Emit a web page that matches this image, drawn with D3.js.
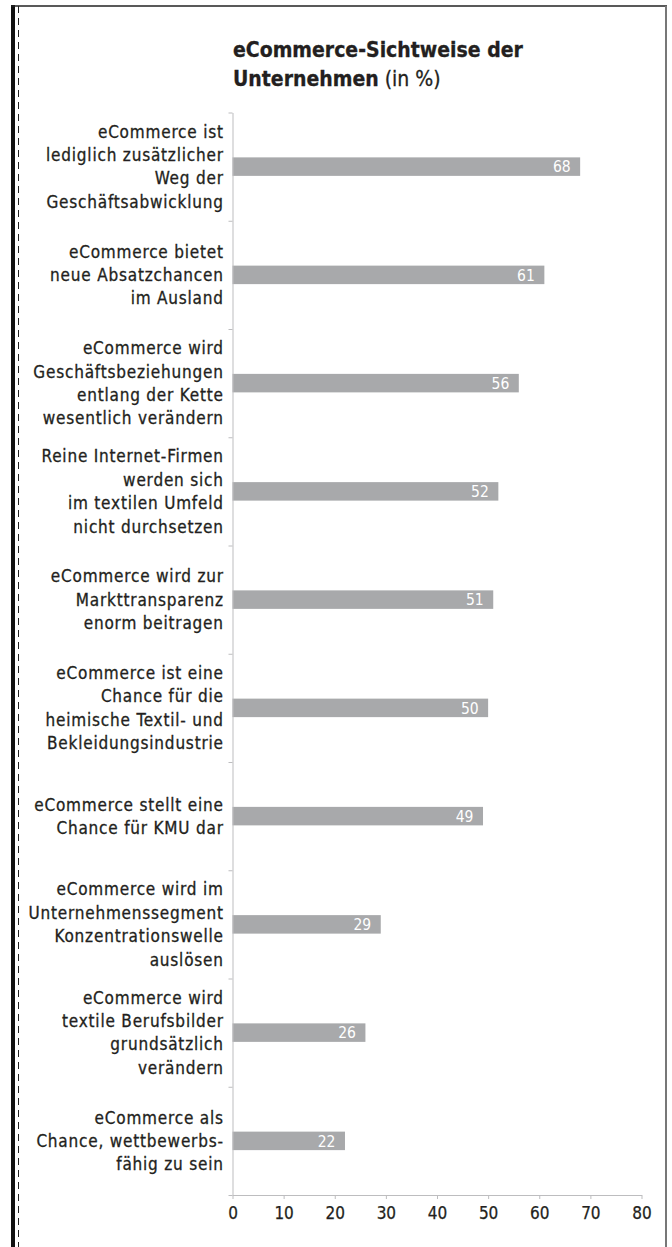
<!DOCTYPE html>
<html>
<head>
<meta charset="utf-8">
<script src="https://cdn.jsdelivr.net/npm/d3@7"></script>
<style>
  html, body { margin: 0; padding: 0; background: #fff; }
  svg { display: block; }
</style>
</head>
<body>
<svg id="chart" width="672" height="1247"></svg>
<script>
// ---- data ----
const categoryLines = [
  ["eCommerce ist", "lediglich zusätzlicher", "Weg der", "Geschäftsabwicklung"],
  ["eCommerce bietet", "neue Absatzchancen", "im Ausland"],
  ["eCommerce wird", "Geschäftsbeziehungen", "entlang der Kette", "wesentlich verändern"],
  ["Reine Internet-Firmen", "werden sich", "im textilen Umfeld", "nicht durchsetzen"],
  ["eCommerce wird zur", "Markttransparenz", "enorm beitragen"],
  ["eCommerce ist eine", "Chance für die", "heimische Textil- und", "Bekleidungsindustrie"],
  ["eCommerce stellt eine", "Chance für KMU dar"],
  ["eCommerce wird im", "Unternehmenssegment", "Konzentrationswelle", "auslösen"],
  ["eCommerce wird", "textile Berufsbilder", "grundsätzlich", "verändern"],
  ["eCommerce als", "Chance, wettbewerbs-", "fähig zu sein"]
];
const values = [68, 61, 56, 52, 51, 50, 49, 29, 26, 22];
const xTicks = [0, 10, 20, 30, 40, 50, 60, 70, 80];
const titleBold = ["eCommerce-Sichtweise der", "Unternehmen"];
const titleNormal = " (in %)";

// ---- layout ----
const FONT = "'DejaVu Sans Condensed', 'DejaVu Sans', sans-serif";
const TEXT = "#231f20";
const AXIS = "#bdbdbf";
const BAR = "#a8a9ab";

const svg = d3.select("#chart");

// page frame
svg.append("rect").attr("x", 11).attr("y", 5).attr("width", 4).attr("height", 1242).attr("fill", "#111");
svg.append("line").attr("x1", 18.5).attr("x2", 18.5).attr("y1", 6).attr("y2", 1247)
  .attr("stroke", "#222").attr("stroke-width", 1).attr("stroke-dasharray", "7,5");
svg.append("line").attr("x1", 11).attr("x2", 667).attr("y1", 6).attr("y2", 6)
  .attr("stroke", "#222").attr("stroke-width", 1.5);
svg.append("line").attr("x1", 666).attr("x2", 666).attr("y1", 6).attr("y2", 1247)
  .attr("stroke", "#777").attr("stroke-width", 2);

// title
const title = svg.append("text").attr("x", 233).attr("y", 57)
  .style("font-family", FONT).style("font-size", "21px").attr("fill", TEXT)
  .attr("stroke", TEXT).attr("stroke-width", 0.3);
title.append("tspan").attr("font-weight", "bold").text(titleBold[0]);
const t2 = svg.append("text").attr("x", 233).attr("y", 86)
  .style("font-family", FONT).style("font-size", "21px").attr("fill", TEXT)
  .attr("stroke", TEXT).attr("stroke-width", 0.3);
t2.append("tspan").attr("font-weight", "bold").text(titleBold[1]);
t2.append("tspan").attr("font-weight", "normal").text(titleNormal);

// scales
const plotTop = 112.5, plotBottom = 1195;
const x = d3.scaleLinear().domain([0, 80]).range([232.5, 641.5]);
const idx = d3.range(categoryLines.length);
const y = d3.scaleBand().domain(idx).range([plotTop, plotBottom]).padding(0);
const yEdge = d3.scaleLinear().domain([0, categoryLines.length]).range([plotTop, plotBottom]);

// bars
const barH = 18.5;
svg.append("g").selectAll("rect").data(values).join("rect")
  .attr("x", x(0))
  .attr("y", (d, i) => y(i) + y.bandwidth() / 2 - barH / 2)
  .attr("width", d => x(d) - x(0))
  .attr("height", barH)
  .attr("fill", BAR);

// value labels
svg.append("g").selectAll("text").data(values).join("text")
  .attr("x", d => x(d) - 9.5)
  .attr("y", (d, i) => y(i) + y.bandwidth() / 2)
  .attr("dy", "0.37em")
  .attr("text-anchor", "end")
  .style("font-family", FONT).style("font-size", "15.5px").attr("fill", "#fff")
  .text(d => d);

// category boundary axis (vertical line + small ticks)
const yAxis = d3.axisLeft(yEdge).tickValues(d3.range(categoryLines.length + 1))
  .tickSize(4).tickSizeOuter(0).tickFormat("");
const gy = svg.append("g").attr("transform", `translate(${x(0)},0)`).call(yAxis);
gy.selectAll("path, line").attr("stroke", AXIS).attr("stroke-width", 1);

// x axis
const xAxis = d3.axisBottom(x).tickValues(xTicks).tickSize(4).tickSizeOuter(0).tickPadding(8);
const gx = svg.append("g").attr("transform", `translate(0,${plotBottom})`).call(xAxis);
gx.attr("font-size", null).attr("font-family", null);
gx.selectAll("path, line").attr("stroke", AXIS).attr("stroke-width", 1);
gx.selectAll("text").style("font-family", FONT).style("font-size", "17px")
  .attr("fill", TEXT).attr("stroke", TEXT).attr("stroke-width", 0.25);

// category labels
const lineH = 23.4;
const lab = svg.append("g");
categoryLines.forEach((lines, i) => {
  const c = y(i) + y.bandwidth() / 2;
  const n = lines.length;
  const t = lab.append("text")
    .attr("text-anchor", "end")
    .style("font-family", FONT).style("font-size", "17px")
    .attr("letter-spacing", "0.8px")
    .attr("fill", TEXT).attr("stroke", TEXT).attr("stroke-width", 0.3);
  lines.forEach((ln, j) => {
    t.append("tspan").attr("x", 223.8)
      .attr("y", c + (j - (n - 1) / 2) * lineH)
      .attr("dy", "0.36em")
      .text(ln);
  });
});
</script>
</body>
</html>
